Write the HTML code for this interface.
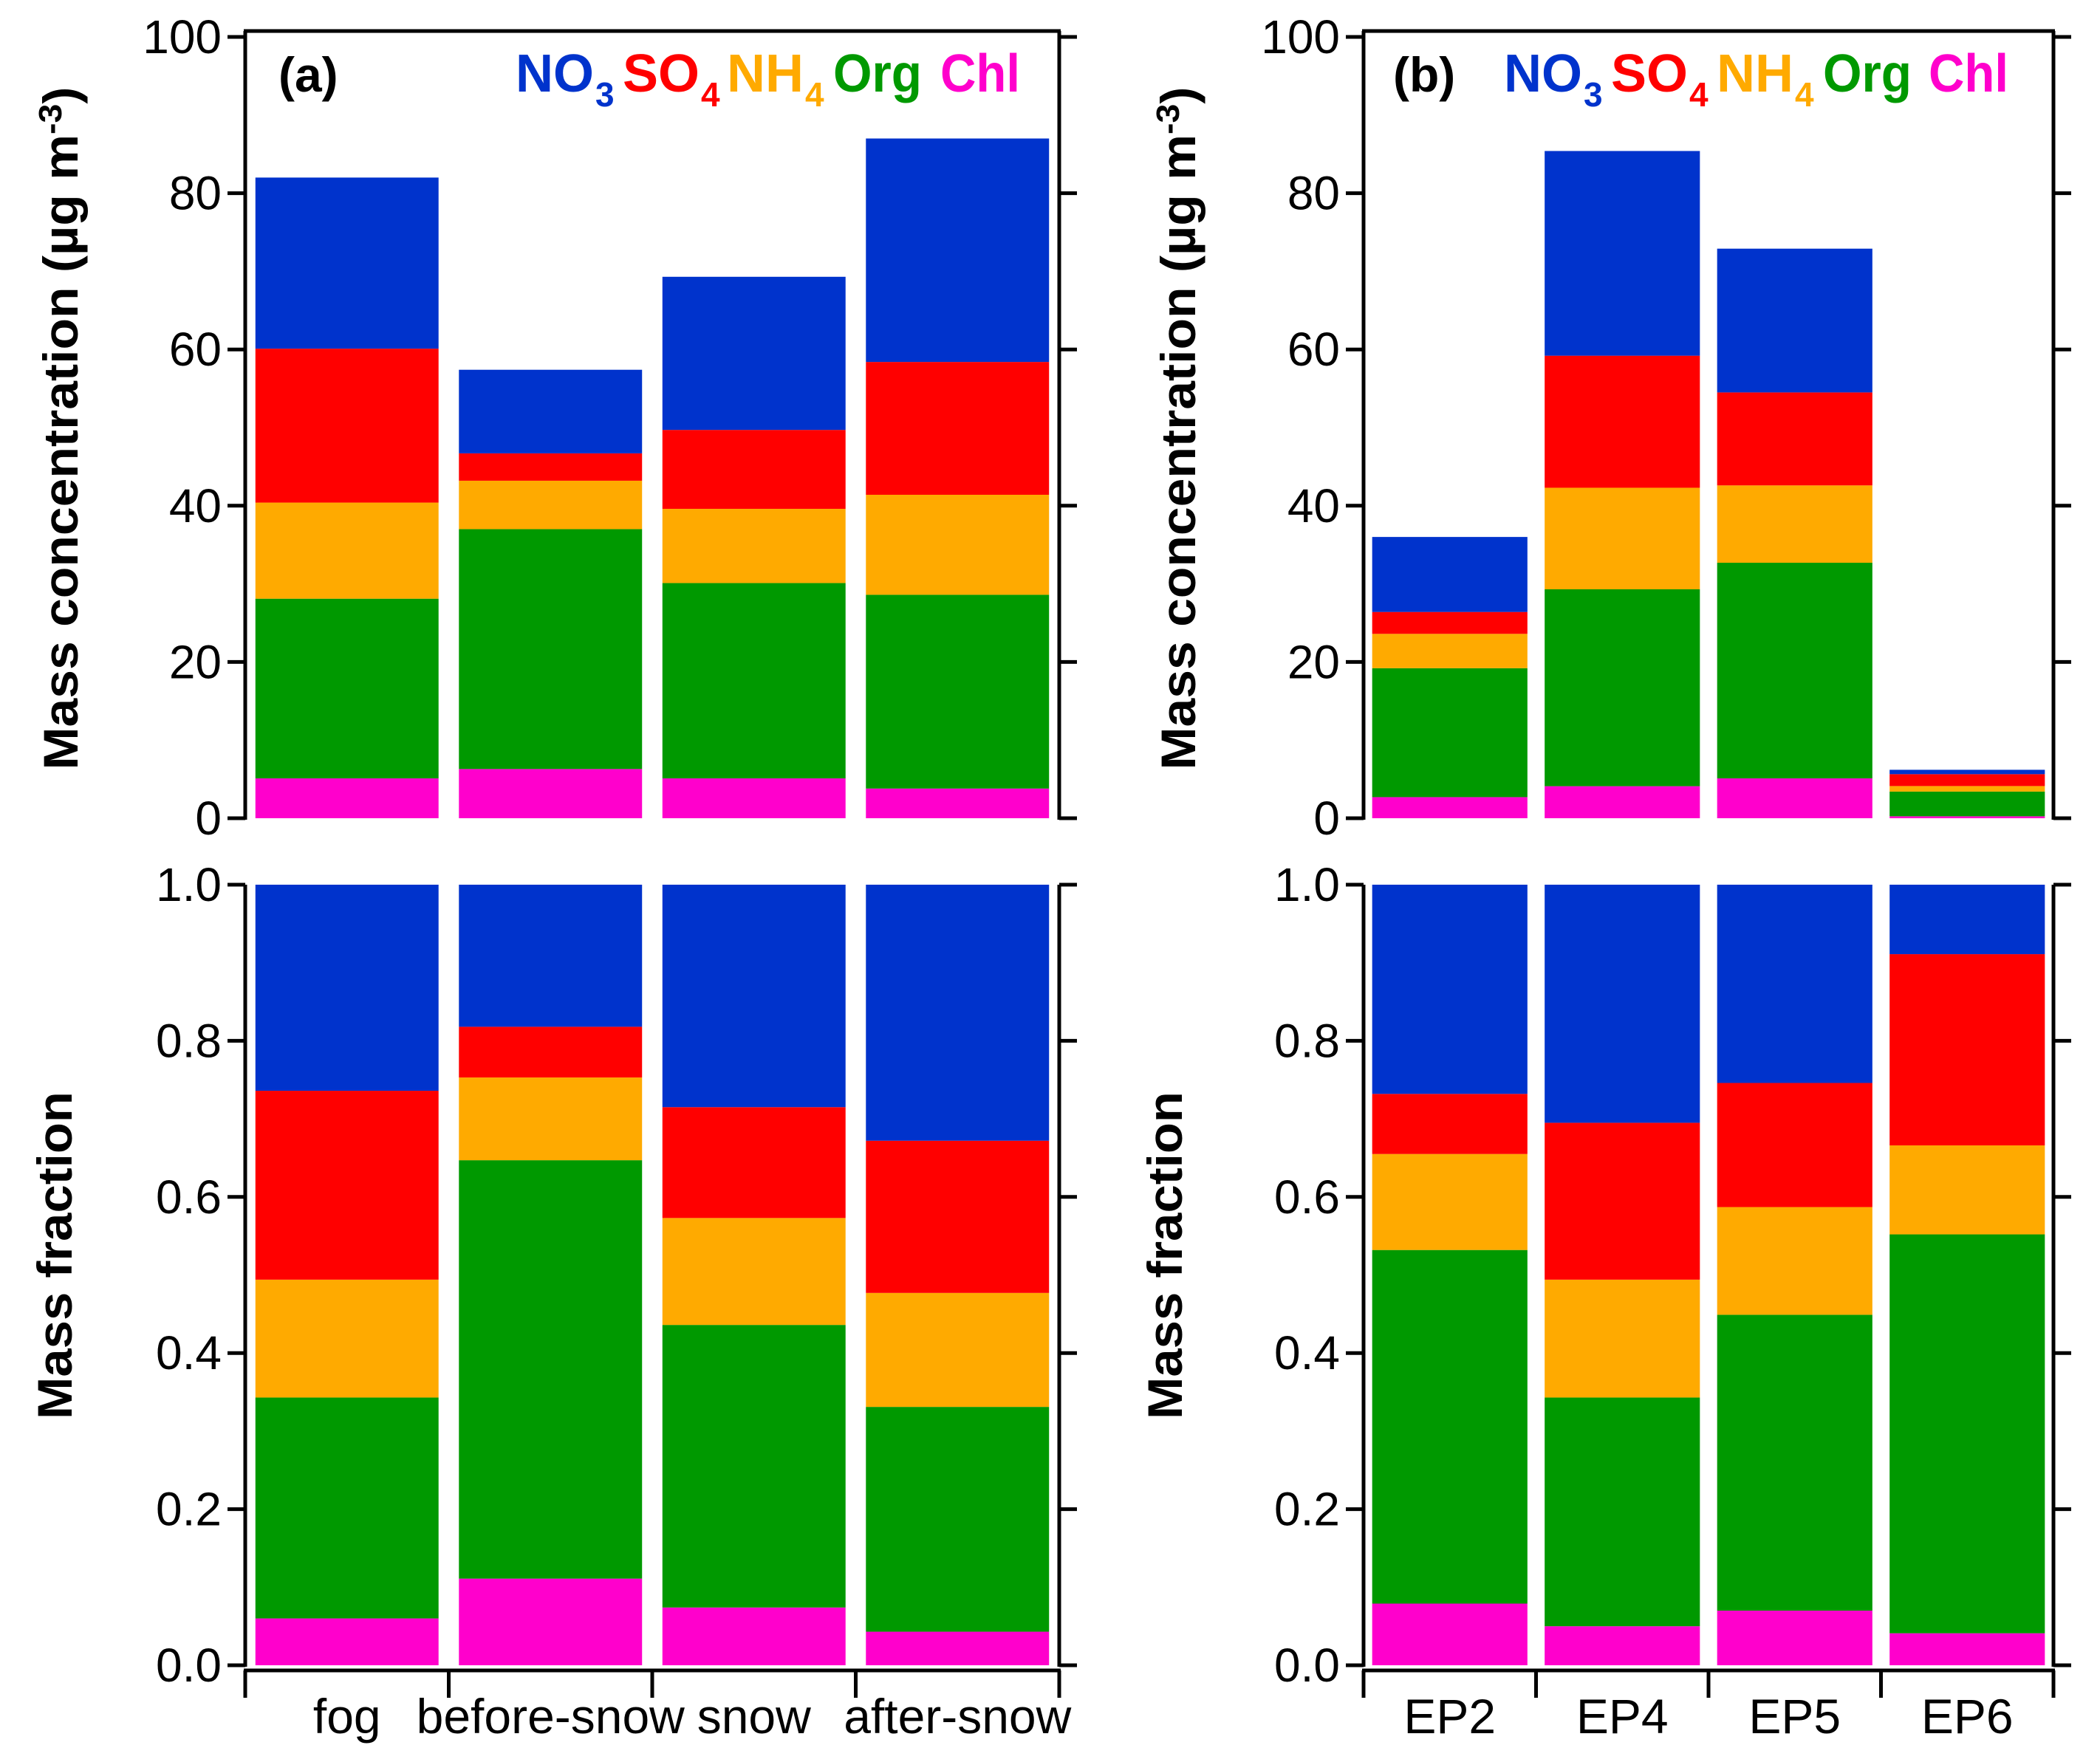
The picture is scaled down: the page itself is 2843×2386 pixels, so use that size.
<!DOCTYPE html>
<html><head><meta charset="utf-8">
<style>
html,body{margin:0;padding:0;background:#fff;}
svg{display:block;}
text{font-family:"Liberation Sans Narrow","Liberation Sans",sans-serif;}
</style></head>
<body>
<svg id="chart" width="2843" height="2386" viewBox="0 0 2843 2386" xmlns="http://www.w3.org/2000/svg">
<g>
<text transform="translate(105,580) rotate(-90)" text-anchor="middle" font-size="66" font-weight="bold" fill="#000" textLength="925" lengthAdjust="spacingAndGlyphs">Mass concentration (µg m<tspan baseline-shift="50%" font-size="44">-3</tspan>)</text>
</g>
<g>
<text transform="translate(1618,580) rotate(-90)" text-anchor="middle" font-size="66" font-weight="bold" fill="#000" textLength="925" lengthAdjust="spacingAndGlyphs">Mass concentration (µg m<tspan baseline-shift="50%" font-size="44">-3</tspan>)</text>
</g>
<g>
<text transform="translate(97,1700) rotate(-90)" text-anchor="middle" font-size="66" font-weight="bold" fill="#000" textLength="444" lengthAdjust="spacingAndGlyphs">Mass fraction</text>
</g>
<g>
<text transform="translate(1600,1700) rotate(-90)" text-anchor="middle" font-size="66" font-weight="bold" fill="#000" textLength="444" lengthAdjust="spacingAndGlyphs">Mass fraction</text>
</g>
</svg>
<script>
// ---- data ----
const speciesNames = ["Chl","Org","NH4","SO4","NO3"];
const speciesColors = ["#FF00CC","#009900","#FFAA00","#FF0000","#0033CC"];
const catsA = ["fog","before-snow","snow","after-snow"];
const catsB = ["EP2","EP4","EP5","EP6"];
// concentration (µg m-3), order: Chl, Org, NH4, SO4, NO3
const concA_Chl = [5.1, 6.3, 5.1, 3.8];
const concA_Org = [23.0, 30.7, 25.0, 24.8];
const concA_NH4 = [12.3, 6.2, 9.5, 12.8];
const concA_SO4 = [19.7, 3.5, 10.1, 17.0];
const concA_NO3 = [21.9, 10.7, 19.6, 28.6];
const concB_Chl = [2.7, 4.1, 5.1, 0.25];
const concB_Org = [16.5, 25.2, 27.6, 3.16];
const concB_NH4 = [4.4, 13.0, 9.9, 0.71];
const concB_SO4 = [2.8, 16.9, 11.9, 1.52];
const concB_NO3 = [9.6, 26.2, 18.4, 0.56];
// mass fractions
const fracA_Chl = [0.060, 0.111, 0.074, 0.043];
const fracA_Org = [0.283, 0.536, 0.362, 0.288];
const fracA_NH4 = [0.151, 0.106, 0.137, 0.146];
const fracA_SO4 = [0.242, 0.065, 0.142, 0.195];
const fracA_NO3 = [0.264, 0.182, 0.285, 0.328];
const fracB_Chl = [0.079, 0.050, 0.070, 0.041];
const fracB_Org = [0.453, 0.293, 0.379, 0.511];
const fracB_NH4 = [0.123, 0.151, 0.138, 0.114];
const fracB_SO4 = [0.077, 0.201, 0.159, 0.245];
const fracB_NO3 = [0.268, 0.305, 0.254, 0.089];
const concTicks = [0,20,40,60,80,100];
const fracTicks = [0,0.2,0.4,0.6,0.8,1.0];
const fracTickLabels = ["0.0","0.2","0.4","0.6","0.8","1.0"];

const NS="http://www.w3.org/2000/svg";
const svg=document.getElementById('chart');
function mk(tag,attrs,parent){const e=document.createElementNS(NS,tag);for(const k in attrs)e.setAttribute(k,attrs[k]);(parent||svg).appendChild(e);return e;}

function panel(opt){
  const g=mk('g',{});
  
  
  const x0=opt.x0,x1=opt.x1,yTop=opt.yTop,yBot=opt.yBot,vmax=opt.vmax;
  const ys=v=>yBot-(v/vmax)*(yBot-yTop);
  const bw=(x1-x0)/opt.cats.length;
  opt.cats.forEach((c,i)=>{
    let cum=0;
    opt.series.forEach((s,k)=>{
      const v=s[i];
      const r=mk('rect',{x:x0+bw*i+bw*0.05,y:ys(cum+v),width:bw*0.9,height:ys(cum)-ys(cum+v),fill:speciesColors[k]},g);
      
      
      cum+=v;
    });
  });
  const ax=mk('g',{stroke:'#000','stroke-width':5,fill:'none'},g);
  
  
  mk('line',{x1:x0,y1:opt.spineTop,x2:x0,y2:yBot+2},ax);
  mk('line',{x1:x1,y1:opt.spineTop,x2:x1,y2:yBot+2},ax);
  if(opt.topSpine) mk('line',{x1:x0-2,y1:opt.spineTop,x2:x1+2,y2:opt.spineTop},ax);
  opt.ticks.forEach((t,j)=>{
    const y=ys(t);
    mk('line',{x1:x0-24,y1:y,x2:x0,y2:y},ax);
    mk('line',{x1:x1,y1:y,x2:x1+24,y2:y},ax);
    const tl=mk('text',{x:x0-32,y:y+22,'text-anchor':'end','font-size':64,fill:'#000'},g);
    
    
    tl.textContent=opt.tickLabels[j];
  });
  if(opt.xaxis){
    mk('line',{x1:x0-2,y1:yBot+7,x2:x1+2,y2:yBot+7},ax);
    for(let i=0;i<=opt.cats.length;i++) mk('line',{x1:x0+bw*i,y1:yBot+7,x2:x0+bw*i,y2:yBot+44},ax);
    opt.cats.forEach((c,i)=>{
      const t=mk('text',{x:x0+bw*(i+0.5),y:yBot+92,'text-anchor':'middle','font-size':66,fill:'#000'},g);
      
      
      t.textContent=c;
    });
  }
}

panel({name:'panel-a-concentration',x0:332,x1:1434,yTop:50,yBot:1108,spineTop:42,topSpine:true,vmax:100,cats:catsA,
  series:[concA_Chl,concA_Org,concA_NH4,concA_SO4,concA_NO3],ticks:concTicks,tickLabels:concTicks.map(String)});
panel({name:'panel-b-concentration',x0:1846,x1:2780,yTop:50,yBot:1108,spineTop:42,topSpine:true,vmax:100,cats:catsB,
  series:[concB_Chl,concB_Org,concB_NH4,concB_SO4,concB_NO3],ticks:concTicks,tickLabels:concTicks.map(String)});
panel({name:'panel-a-fraction',x0:332,x1:1434,yTop:1198,yBot:2255,spineTop:1198,topSpine:false,vmax:1,cats:catsA,xaxis:true,
  series:[fracA_Chl,fracA_Org,fracA_NH4,fracA_SO4,fracA_NO3],ticks:fracTicks,tickLabels:fracTickLabels});
panel({name:'panel-b-fraction',x0:1846,x1:2780,yTop:1198,yBot:2255,spineTop:1198,topSpine:false,vmax:1,cats:catsB,xaxis:true,
  series:[fracB_Chl,fracB_Org,fracB_NH4,fracB_SO4,fracB_NO3],ticks:fracTicks,tickLabels:fracTickLabels});

function legend(xs,label,y,name){
  const g=mk('g',{});
  
  
  const pl=mk('text',{x:label.x,y:y,'font-size':66,'font-weight':'bold',fill:'#000'},g);
  
  
  pl.textContent=label.t;
  const items=[["NO","3","#0033CC",106],["SO","4","#FF0000",104],["NH","4","#FFAA00",104],["Org","","#009900",120],["Chl","","#FF00CC",108]];
  items.forEach((it,i)=>{
    const t=mk('text',{x:xs[i],y:y,'font-size':72,'font-weight':'bold',fill:it[2],textLength:it[3],lengthAdjust:'spacingAndGlyphs'},g);
    
    
    t.textContent=it[0];
    if(it[1]){
      const s=mk('text',{x:xs[i]+it[3]+2,y:y+20,'font-size':46,'font-weight':'bold',fill:it[2]},g);
      
      
      s.textContent=it[1];
    }
  });
}
legend([698,843,984,1128,1273],{x:377,t:"(a)"},124,'legend-a');
legend([2036,2181,2324,2468,2611],{x:1886,t:"(b)"},124,'legend-b');
</script>
</body></html>
